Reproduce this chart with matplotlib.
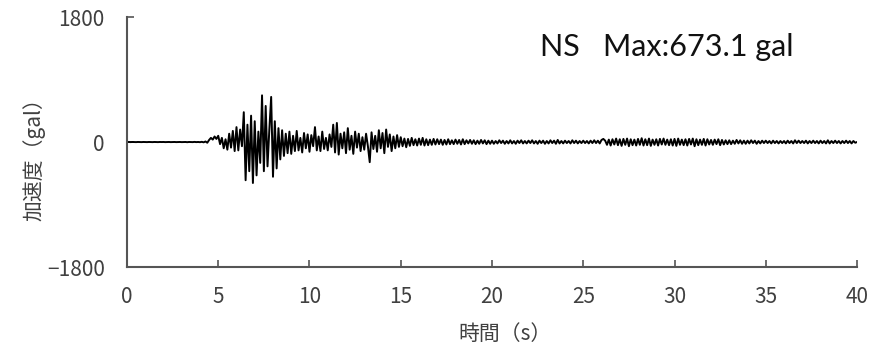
import numpy as np
import matplotlib
matplotlib.use("Agg")
import matplotlib.pyplot as plt

plt.rcParams['font.family'] = ['Noto Sans CJK JP', 'DejaVu Sans']
plt.rcParams['axes.unicode_minus'] = True

# 加速度記録 (gal), 0.1 s 間隔で読み取り
dt = 0.1
acc = [
    0, 1, -1, 1, 0, -1, 1, 0, -1, 1,
    0, -1, 1, 0, -1, 1, 0, -1, 1, 0,
    1, -1, 0, 1, -1, 0, 1, -1, 0, 1,
    -1, 0, 1, -2, 1, 0, -1, 2, -1, 1,
    -2, 3, -4, 8, -10, 30, 60, 35, 80, 45,
    90, -30, 60, -90, 40, -110, 120, -80, 160, -130,
    215, -120, 180, -60, 430, -550, 250, -420, 380, -590,
    300, -480, 150, -300, 673, -420, 520, -350, 180, 650,
    -500, 300, -380, 200, -250, 170, -200, 120, -160, 150,
    -170, 90, -130, 160, -120, 60, -150, 130, -90, 110,
    -140, 100, -60, 215, -120, 80, -130, 150, -100, 60,
    -120, 110, -70, 250, -150, 275, -180, 120, -90, 140,
    -160, 200, -110, 90, -170, 150, -80, 120, -130, 70,
    -110, 120, -60, -290, 140, -100, 90, -140, 170, -90,
    130, -160, 180, -70, 110, -130, 80, -90, 100, -70,
    70, -60, 50, -75, 45, -55, 60, -45, 40, -50,
    50, -40, 60, -50, 40, -45, 35, -40, 45, -35,
    40, -30, 35, -40, 30, -35, 40, -30, 25, -30,
    35, -25, 30, -35, 40, -30, 25, -20, 30, -25,
    25, -30, 20, -25, 30, -20, 25, -30, 20, -25,
    20, -25, 15, -20, 25, -15, 20, -25, 15, -20,
    25, -20, 15, -25, 20, -15, 25, -20, 15, -20,
    20, -15, 25, -20, 15, -25, 20, -15, 20, -25,
    15, -20, 25, -15, 20, -25, 30, -20, 15, -20,
    20, -15, 15, -20, 25, -15, 20, -20, 15, -15,
    20, -15, 15, -20, 20, -15, 25, -15, 20, -20,
    30, 45, 20, -40, 35, -50, 40, -35, 50, -45,
    40, -55, 45, -40, 50, -60, 40, -45, 35, -50,
    45, -40, 55, -50, 40, -45, 50, -55, 35, -40,
    40, -50, 45, -35, 50, -40, 35, -45, 40, -50,
    45, -55, 50, -40, 35, -45, 40, -50, 45, -35,
    50, -60, 40, -45, 35, -40, 45, -50, 40, -35,
    30, -40, 35, -30, 40, -45, 30, -35, 25, -30,
    25, -30, 20, -25, 30, -20, 25, -25, 20, -25,
    20, -20, 25, -15, 20, -25, 15, -20, 20, -15,
    20, -15, 15, -20, 20, -15, 15, -20, 15, -15,
    15, -20, 20, -15, 15, -20, 25, -15, 20, -15,
    15, -15, 20, -20, 15, -15, 20, -15, 15, -20,
    20, -15, 15, -20, 25, -20, 15, -15, 20, -15,
    15, -20, 15, -15, 20, -15, 15, -20, 15, -10,
    0,
]
t = np.arange(len(acc)) * dt

xticks = [0, 5, 10, 15, 20, 25, 30, 35, 40]
yticks = [-1800, 0, 1800]
title_text = "NS   Max:673.1 gal"

fig = plt.figure(figsize=(8.83, 3.56), dpi=100)
ax = fig.add_axes([0.1438, 0.25, 0.8268, 0.702])

ax.plot(t, acc, color='black', lw=1.4)

ax.set_xlim(0, 40)
ax.set_ylim(-1800, 1800)
ax.set_xticks(xticks)
ax.set_yticks(yticks)

gray = '#555555'
txt = '#404040'
for s in ['top', 'right']:
    ax.spines[s].set_visible(False)
for s in ['left', 'bottom']:
    ax.spines[s].set_color(gray)
    ax.spines[s].set_linewidth(1.5)

ax.tick_params(axis='both', direction='in', colors=gray, length=5, width=1.2,
               labelsize=15, labelcolor=txt)
ax.tick_params(axis='y', pad=16)
ax.tick_params(axis='x', pad=14)

ax.set_xlabel('時間（s）', fontsize=15, color=txt)
ax.xaxis.set_label_coords(0.518, -0.225)
ax.set_ylabel('加速度（gal）', fontsize=15, color=txt)
ax.yaxis.set_label_coords(-0.112, 0.45)

ax.text(0.566, 0.88, title_text, transform=ax.transAxes, fontsize=22,
        family=['Lato', 'DejaVu Sans'], color='#111111', va='center', ha='left')

fig.savefig('out.png', dpi=100)
